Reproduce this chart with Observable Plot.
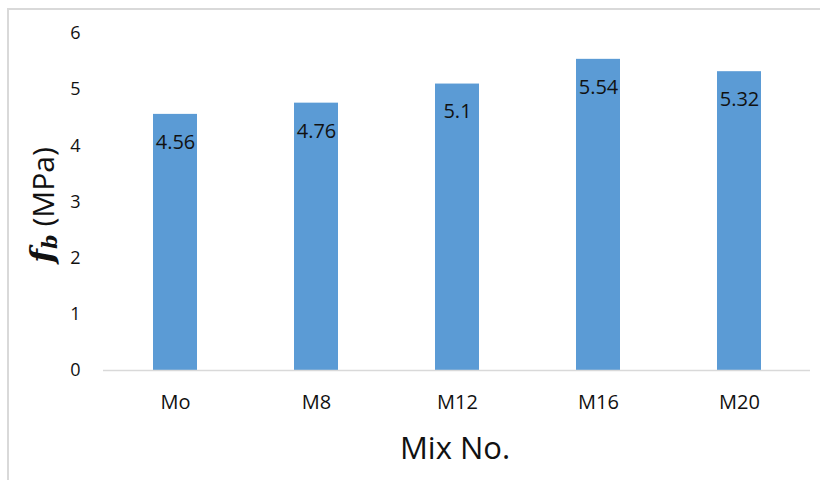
<!DOCTYPE html>
<html>
<head>
<meta charset="utf-8">
<script src="https://cdn.jsdelivr.net/npm/d3@7"></script>
<script src="https://cdn.jsdelivr.net/npm/@observablehq/plot@0.6"></script>
<style>
  html, body { margin: 0; padding: 0; background: #fff; }
  #wrap { position: relative; width: 820px; height: 480px; overflow: hidden; }
  #frame { position: absolute; left: 7px; top: 8px; width: 830px; height: 490px; border: 2px solid #d9d9d9; box-sizing: border-box; }
  #chart { position: absolute; left: 0; top: 0; }
</style>
</head>
<body>
<div id="wrap">
  <div id="frame"></div>
  <div id="chart"></div>
</div>
<script>
const mixes = ["Mo", "M8", "M12", "M16", "M20"];
const fb = [4.56, 4.76, 5.1, 5.54, 5.32];
const yTicks = [0, 1, 2, 3, 4, 5, 6];
const xTitle = "Mix No.";

const data = mixes.map((m, i) => ({mix: m, value: fb[i]}));

const plot = Plot.plot({
  width: 820,
  height: 480,
  marginLeft: 103,
  marginRight: 10,
  marginTop: 33,
  marginBottom: 110,
  style: {fontFamily: "Open Sans", background: "transparent", color: "#111"},
  x: {domain: mixes, paddingInner: 0.69, paddingOuter: 0.345, label: null, axis: null},
  y: {domain: [0, 6], label: null, axis: null},
  marks: [
    Plot.axisY({ticks: yTicks, tickFormat: d => String(d), tickSize: 0, tickPadding: 23, fontSize: 18, label: null}),
    Plot.axisX({tickSize: 0, tickPadding: 24, fontSize: 20, label: null}),
    Plot.barY(data, {x: "mix", y: "value", fill: "#5b9bd5"}),
    Plot.ruleY([0], {stroke: "#d9d9d9", strokeWidth: 1.5}),
    Plot.text(data, {x: "mix", y: "value", text: d => String(d.value), dy: 28, fontSize: 20, fill: "#111"})
  ]
});
document.getElementById("chart").appendChild(plot);

const svg = d3.select(plot);
svg.append("text")
  .attr("x", 455).attr("y", 447)
  .attr("text-anchor", "middle").attr("dominant-baseline", "central")
  .attr("font-family", "Open Sans").attr("font-size", 31).attr("fill", "#111")
  .text(xTitle);

const yt = svg.append("text")
  .attr("transform", "translate(42,205) rotate(-90)")
  .attr("text-anchor", "middle").attr("dominant-baseline", "central")
  .attr("fill", "#111");
yt.append("tspan").attr("font-family", "DejaVu Serif").attr("font-style", "italic").attr("font-weight", "bold").attr("font-size", 32).text("f");
yt.append("tspan").attr("font-family", "DejaVu Serif").attr("font-style", "italic").attr("font-weight", "bold").attr("font-size", 21).attr("dy", 7).text("b");
yt.append("tspan").attr("font-family", "Open Sans").attr("font-size", 30).attr("dy", -7).text(" (MPa)");
</script>
</body>
</html>
